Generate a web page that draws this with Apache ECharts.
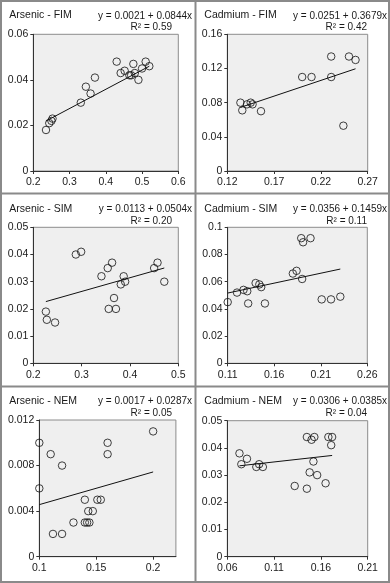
<!DOCTYPE html>
<html><head><meta charset="utf-8">
<script src="https://cdn.jsdelivr.net/npm/echarts@6/dist/echarts.min.js"></script>
<style>html,body{margin:0;padding:0;background:#fff}#c{width:390px;height:583px}</style>
</head><body><div id="c"></div>
<script>
// ---- Data ----
const panelTitles = ["Arsenic - FIM", "Cadmium - FIM", "Arsenic - SIM", "Cadmium - SIM", "Arsenic - NEM", "Cadmium - NEM"];
const equations = ["y = 0.0021 + 0.0844x", "y = 0.0251 + 0.3679x", "y = 0.0113 + 0.0504x", "y = 0.0356 + 0.1459x", "y = 0.0017 + 0.0287x", "y = 0.0306 + 0.0385x"];
const rSquared = ["R² = 0.59", "R² = 0.42", "R² = 0.20", "R² = 0.11", "R² = 0.05", "R² = 0.04"];
const intercepts = [0.0021, 0.0251, 0.0113, 0.0356, 0.0017, 0.0306];
const slopes = [0.0844, 0.3679, 0.0504, 0.1459, 0.0287, 0.0385];

const asFimX = [0.235, 0.244, 0.250, 0.253, 0.331, 0.345, 0.358, 0.370, 0.430, 0.441, 0.452, 0.465, 0.470, 0.476, 0.480, 0.490, 0.500, 0.510, 0.520];
const asFimY = [0.018, 0.021, 0.022, 0.023, 0.030, 0.037, 0.034, 0.041, 0.048, 0.043, 0.044, 0.042, 0.042, 0.047, 0.043, 0.040, 0.045, 0.048, 0.046];
const cdFimX = [0.134, 0.136, 0.141, 0.145, 0.147, 0.156, 0.200, 0.210, 0.231, 0.231, 0.244, 0.250, 0.257];
const cdFimY = [0.080, 0.071, 0.078, 0.080, 0.078, 0.070, 0.110, 0.110, 0.134, 0.110, 0.053, 0.134, 0.130];
const asSimX = [0.226, 0.228, 0.245, 0.288, 0.299, 0.341, 0.354, 0.363, 0.356, 0.367, 0.371, 0.381, 0.387, 0.390, 0.450, 0.457, 0.471];
const asSimY = [0.019, 0.016, 0.015, 0.040, 0.041, 0.032, 0.035, 0.037, 0.020, 0.024, 0.020, 0.029, 0.032, 0.030, 0.035, 0.037, 0.030];
const cdSimX = [0.110, 0.120, 0.127, 0.131, 0.132, 0.140, 0.144, 0.146, 0.150, 0.180, 0.184, 0.189, 0.191, 0.190, 0.199, 0.211, 0.221, 0.231];
const cdSimY = [0.045, 0.052, 0.054, 0.053, 0.044, 0.059, 0.058, 0.056, 0.044, 0.066, 0.068, 0.092, 0.089, 0.062, 0.092, 0.047, 0.047, 0.049];
const asNemX = [0.100, 0.100, 0.110, 0.120, 0.112, 0.120, 0.130, 0.140, 0.142, 0.144, 0.143, 0.147, 0.140, 0.151, 0.154, 0.160, 0.160, 0.200];
const asNemY = [0.010, 0.006, 0.009, 0.008, 0.002, 0.002, 0.003, 0.003, 0.003, 0.003, 0.004, 0.004, 0.005, 0.005, 0.005, 0.010, 0.009, 0.011];
const cdNemX = [0.073, 0.075, 0.081, 0.091, 0.094, 0.098, 0.132, 0.145, 0.145, 0.148, 0.150, 0.153, 0.152, 0.156, 0.165, 0.168, 0.172, 0.171];
const cdNemY = [0.038, 0.034, 0.036, 0.033, 0.034, 0.033, 0.026, 0.044, 0.025, 0.031, 0.043, 0.044, 0.035, 0.030, 0.027, 0.044, 0.044, 0.041];

const xTicks = [
  [0.2, 0.3, 0.4, 0.5, 0.6],
  [0.12, 0.17, 0.22, 0.27],
  [0.2, 0.3, 0.4, 0.5],
  [0.11, 0.16, 0.21, 0.26],
  [0.1, 0.15, 0.2],
  [0.06, 0.11, 0.16, 0.21]
];
const xMax = [0.6, 0.27, 0.5, 0.26, 0.22, 0.21];
const yTicks = [
  [0, 0.02, 0.04, 0.06],
  [0, 0.04, 0.08, 0.12, 0.16],
  [0, 0.01, 0.02, 0.03, 0.04, 0.05],
  [0, 0.02, 0.04, 0.06, 0.08, 0.1],
  [0, 0.004, 0.008, 0.012],
  [0, 0.01, 0.02, 0.03, 0.04, 0.05]
];

const xs = [asFimX, cdFimX, asSimX, cdSimX, asNemX, cdNemX];
const ys = [asFimY, cdFimY, asSimY, cdSimY, asNemY, cdNemY];

// ---- Layout ----
const grids = [
  {left: 33.3, top: 34.3, width: 145, height: 136.7},
  {left: 227.3, top: 34.3, width: 140.4, height: 136.7},
  {left: 33.3, top: 227.3, width: 145, height: 136},
  {left: 227.7, top: 227.3, width: 139.6, height: 136},
  {left: 39.3, top: 420, width: 136.6, height: 136.7},
  {left: 227.3, top: 420.7, width: 140.4, height: 136}
];
const FONT = "'Liberation Sans', Arial, sans-serif";

const option = {
  animation: false,
  backgroundColor: '#fff',
  grid: [], xAxis: [], yAxis: [], series: [], graphic: []
};

for (let i = 0; i < 6; i++) {
  const g = grids[i];
  option.grid.push(Object.assign({show: true, backgroundColor: '#efefef', borderColor: '#8c8c8c', borderWidth: 1}, g));
  const axCommon = {
    axisLine: {show: true, onZero: false, lineStyle: {color: '#333', width: 1}},
    axisTick: {show: true, length: 3, lineStyle: {color: '#333'}},
    splitLine: {show: false},
    axisLabel: {color: '#1a1a1a', fontSize: 10.5, fontFamily: FONT}
  };
  option.xAxis.push({
    type: 'value', gridIndex: i, min: xTicks[i][0], max: xMax[i],
    axisLine: axCommon.axisLine, splitLine: axCommon.splitLine,
    axisTick: Object.assign({customValues: xTicks[i]}, axCommon.axisTick),
    axisLabel: Object.assign({customValues: xTicks[i], margin: 6, formatter: v => String(v)}, axCommon.axisLabel)
  });
  option.yAxis.push({
    type: 'value', gridIndex: i, min: yTicks[i][0], max: yTicks[i][yTicks[i].length - 1],
    axisLine: axCommon.axisLine, splitLine: axCommon.splitLine,
    axisTick: Object.assign({customValues: yTicks[i]}, axCommon.axisTick),
    axisLabel: Object.assign({customValues: yTicks[i], margin: 5, formatter: v => String(v)}, axCommon.axisLabel)
  });
  const pts = xs[i].map((x, k) => [x, ys[i][k]]);
  option.series.push({
    type: 'scatter', xAxisIndex: i, yAxisIndex: i, data: pts,
    symbol: 'circle', symbolSize: 7.5,
    itemStyle: {color: 'rgba(0,0,0,0)', borderColor: '#111', borderWidth: 1},
    z: 3
  });
  const x0 = Math.min.apply(null, xs[i]), x1 = Math.max.apply(null, xs[i]);
  option.series.push({
    type: 'line', xAxisIndex: i, yAxisIndex: i,
    data: [[x0, intercepts[i] + slopes[i] * x0], [x1, intercepts[i] + slopes[i] * x1]],
    symbol: 'none', lineStyle: {color: '#111', width: 1}, z: 2
  });

  const col = i % 2, row = Math.floor(i / 2);
  const rowY = [15.5, 209, 401][row];
  const baseX = col === 0 ? 0 : 195;
  option.graphic.push({type: 'text', z: 10, style: {text: panelTitles[i], x: baseX + 9.3, y: rowY, textAlign: 'left', textVerticalAlign: 'middle', font: '10.5px ' + FONT, fill: '#1a1a1a'}});
  option.graphic.push({type: 'text', z: 10, style: {text: equations[i], x: baseX + 192, y: rowY + 0.5, textAlign: 'right', textVerticalAlign: 'middle', font: '10px ' + FONT, fill: '#1a1a1a'}});
  option.graphic.push({type: 'text', z: 10, style: {text: rSquared[i], x: baseX + 172, y: rowY + 12, textAlign: 'right', textVerticalAlign: 'middle', font: '10px ' + FONT, fill: '#1a1a1a'}});
}

// frame lines
const frameStyle = {stroke: '#8a8a8a', lineWidth: 2, fill: null};
option.graphic.push({type: 'rect', z: 5, shape: {x: 1, y: 1, width: 388, height: 581}, style: frameStyle});
option.graphic.push({type: 'line', z: 5, shape: {x1: 195.5, y1: 1, x2: 195.5, y2: 582}, style: frameStyle});
option.graphic.push({type: 'line', z: 5, shape: {x1: 1, y1: 193.5, x2: 389, y2: 193.5}, style: frameStyle});
option.graphic.push({type: 'line', z: 5, shape: {x1: 1, y1: 386.5, x2: 389, y2: 386.5}, style: frameStyle});

const chart = echarts.init(document.getElementById('c'), null, {renderer: 'canvas'});
chart.setOption(option);
</script>
</body></html>
